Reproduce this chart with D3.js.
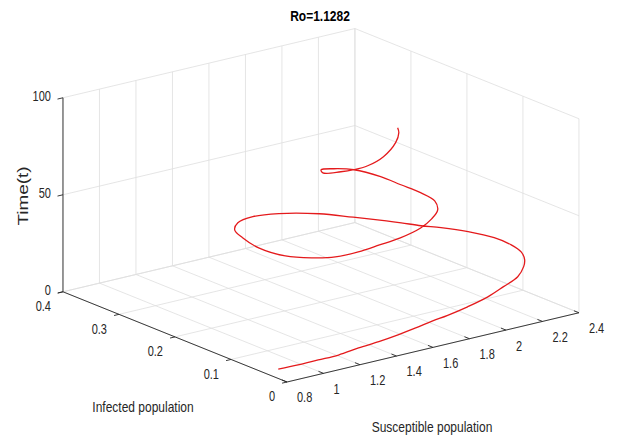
<!DOCTYPE html>
<html>
<head>
<meta charset="utf-8">
<script src="https://cdn.jsdelivr.net/npm/d3@7"></script>
<style>
  body { margin: 0; background: #fff; }
  svg { display: block; font-family: "Liberation Sans", Arial, sans-serif; }
  .grid { stroke: #dedede; stroke-width: 0.8; fill: none; }
  .axis { stroke: #262626; stroke-width: 0.9; fill: none; }
  .tick-label { font-size: 11px; fill: #262626; }
  .axis-label { font-size: 12px; fill: #262626; }
</style>
</head>
<body>
<svg></svg>
<script>
// tick values
const sTicks = [0.8, 1, 1.2, 1.4, 1.6, 1.8, 2, 2.2, 2.4]
const iTicks = [0, 0.1, 0.2, 0.3, 0.4]
const tTicks = [0, 50, 100]
const sTickLabels = ["0.8", "1", "1.2", "1.4", "1.6", "1.8", "2", "2.2", "2.4"]
const iTickLabels = ["0", "0.1", "0.2", "0.3", "0.4"]
const tTickLabels = ["0", "50", "100"]

// trajectory: time, susceptible, infected
const tVals = [0, 1, 2, 3, 4, 5, 6, 7.5, 9, 10.5, 13, 16, 19, 22, 25, 27, 28.5, 30, 31.5, 33,
               34.5, 35.5, 36.5, 37.3, 38.8, 40.3, 42, 43.2, 44.5, 45.5, 46.5, 48, 50, 51.5, 53, 54.5,
               56, 57.5, 59, 60.5, 62, 63.5, 65, 66.5, 68, 70, 71.5, 72.5, 73.5, 75, 76.5, 78.5, 82, 87, 93, 100]
const sVals = [0.881, 0.968, 1.063, 1.159, 1.272, 1.380, 1.492, 1.582, 1.672, 1.751, 1.851, 1.956, 2.048, 2.132,
               2.189, 2.219, 2.249, 2.250, 2.227, 2.164, 2.080, 2.011, 1.951, 1.903, 1.795, 1.682, 1.516, 1.380,
               1.255, 1.167, 1.109, 1.053, 1.043, 1.094, 1.157, 1.255, 1.362, 1.470, 1.600, 1.691, 1.764, 1.806,
               1.802, 1.777, 1.752, 1.686, 1.600, 1.530, 1.494, 1.540, 1.577, 1.626, 1.700, 1.779, 1.775, 1.698]
const iVals = [0.042, 0.035, 0.030, 0.025, 0.026, 0.025, 0.026, 0.025, 0.025, 0.023, 0.020, 0.018, 0.020, 0.022,
               0.030, 0.038, 0.054, 0.072, 0.095, 0.121, 0.142, 0.155, 0.171, 0.182, 0.206, 0.230, 0.248, 0.250,
               0.236, 0.213, 0.180, 0.133, 0.082, 0.051, 0.030, 0.021, 0.018, 0.016, 0.022, 0.032, 0.045, 0.064,
               0.088, 0.115, 0.143, 0.169, 0.177, 0.177, 0.162, 0.145, 0.134, 0.125, 0.121, 0.125, 0.118, 0.095]

let width = 618
let height = 441

// view like matlab view(az, el)
let az = -37.5 * Math.PI / 180
let el = 18 * Math.PI / 180
let boxXY = 368
let boxZ = 204
let origin = [287, 382]

// the picture is stretched vertically, so is its text
let stretch = 1.28

let sScale
let iScale
let tScale

let svg = d3.select("svg")

const drawCanvas = () => {
    svg.attr("width", width)
    svg.attr("height", height)
    svg.append("rect").attr("width", width).attr("height", height).attr("fill", "#fff")
}

const generateScales = () => {
    sScale = d3.scaleLinear().domain([0.8, 2.4]).range([0, boxXY])
    iScale = d3.scaleLinear().domain([0, 0.4]).range([0, boxXY])
    tScale = d3.scaleLinear().domain([0, 100]).range([0, boxZ])
}

const project = (s, i, t) => {
    let u = sScale(s), v = iScale(i), w = tScale(t)
    let x = origin[0] + u * Math.cos(az) + v * Math.sin(az)
    let y = origin[1] - (-u * Math.sin(az) * Math.sin(el) + v * Math.cos(az) * Math.sin(el) + w * Math.cos(el))
    return [x, y]
}

const seg = (g, a, b, cls) => {
    let p = project(...a), q = project(...b)
    g.append("line").attr("class", cls)
        .attr("x1", p[0]).attr("y1", p[1])
        .attr("x2", q[0]).attr("y2", q[1])
}

const label = (g, x, y, txt, anchor, cls) => {
    return g.append("text").attr("class", cls)
        .attr("transform", "translate(" + x + "," + y + ") scale(1," + stretch + ")")
        .attr("text-anchor", anchor).attr("dominant-baseline", "central")
        .text(txt)
}

const drawGrid = () => {
    let g = svg.append("g")
    // floor
    sTicks.forEach(s => seg(g, [s, 0, 0], [s, 0.4, 0], "grid"))
    iTicks.forEach(i => seg(g, [0.8, i, 0], [2.4, i, 0], "grid"))
    // back wall at I = 0.4
    sTicks.forEach(s => seg(g, [s, 0.4, 0], [s, 0.4, 100], "grid"))
    tTicks.forEach(t => seg(g, [0.8, 0.4, t], [2.4, 0.4, t], "grid"))
    // side wall at S = 2.4
    iTicks.forEach(i => seg(g, [2.4, i, 0], [2.4, i, 100], "grid"))
    tTicks.forEach(t => seg(g, [2.4, 0, t], [2.4, 0.4, t], "grid"))
}

const drawAxes = () => {
    let g = svg.append("g")
    seg(g, [0.8, 0.4, 0], [0.8, 0.4, 100], "axis")
    seg(g, [0.8, 0, 0], [0.8, 0.4, 0], "axis")
    seg(g, [0.8, 0, 0], [2.4, 0, 0], "axis")

    // ticks
    tTicks.forEach(t => seg(g, [0.8, 0.4, t], [0.77, 0.4, t], "axis"))
    iTicks.forEach(i => seg(g, [0.8, i, 0], [0.773, i, 0], "axis"))
    sTicks.forEach(s => seg(g, [s, 0, 0], [s, 0.009, 0], "axis"))

    // tick labels
    tTicks.forEach((t, k) => {
        let p = project(0.8, 0.4, t)
        label(g, p[0] - 12, p[1] - 1, tTickLabels[k], "end", "tick-label")
    })
    iTicks.forEach((i, k) => {
        let p = project(0.8, i, 0)
        label(g, p[0] - 12, p[1] + 15, iTickLabels[k], "end", "tick-label")
    })
    sTicks.forEach((s, k) => {
        let p = project(s, 0, 0)
        label(g, p[0] + 10, p[1] + 16, sTickLabels[k], "start", "tick-label")
    })

    // axis titles
    svg.append("text").attr("class", "axis-label")
        .attr("text-anchor", "middle").attr("dominant-baseline", "central")
        .attr("transform", "translate(23,196) rotate(-90) scale(1.35,1)")
        .style("font-size", "14px")
        .text("Time(t)")
    label(svg, 143, 407, "Infected population", "middle", "axis-label")
    label(svg, 432, 427, "Susceptible population", "middle", "axis-label")

    label(svg, 320, 16, "Ro=1.1282", "middle", "title")
        .attr("font-size", "12px").attr("font-weight", "bold").attr("fill", "#000")
}

const drawCurve = () => {
    let pts = tVals.map((t, k) => project(sVals[k], iVals[k], t))
    let line = d3.line().curve(d3.curveCatmullRom.alpha(0.5))
    svg.append("path")
        .attr("d", line(pts))
        .attr("fill", "none")
        .attr("stroke", "#e41a1c")
        .attr("stroke-width", 1.3)
}

drawCanvas()
generateScales()
drawGrid()
drawAxes()
drawCurve()
</script>
</body>
</html>
